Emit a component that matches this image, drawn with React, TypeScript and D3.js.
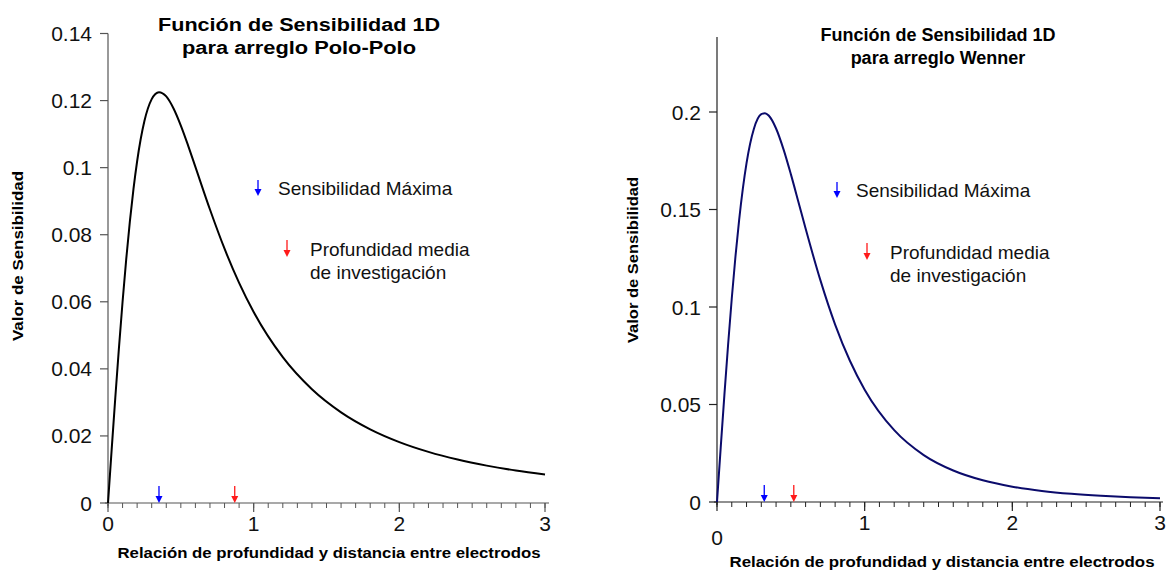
import React from "react";
import * as d3 from "d3";

// ---- data ----
const depthRatio = [0, 0.025, 0.05, 0.075, 0.1, 0.125, 0.15, 0.175, 0.2, 0.25, 0.3, 0.325, 0.35, 0.4, 0.45, 0.5, 0.55, 0.6, 0.7, 0.8, 0.9, 1.0, 1.2, 1.4, 1.6, 1.8, 2.0, 2.2, 2.4, 2.6, 2.8, 3.0];
const polePoleSens = [0, 0.01586, 0.03136, 0.04618, 0.06002, 0.07266, 0.08391, 0.09367, 0.10191, 0.11388, 0.12042, 0.12195, 0.12251, 0.12125, 0.11764, 0.11254, 0.10658, 0.10022, 0.08751, 0.07582, 0.06563, 0.05694, 0.04347, 0.03391, 0.02703, 0.02197, 0.01817, 0.01525, 0.01296, 0.01115, 0.00968, 0.00849];
const wennerSens = [0, 0.02774, 0.05479, 0.08052, 0.10436, 0.12588, 0.14473, 0.16072, 0.17381, 0.19143, 0.19888, 0.19941, 0.19818, 0.19154, 0.18097, 0.16814, 0.15427, 0.14023, 0.11376, 0.09101, 0.07244, 0.05761, 0.03683, 0.02406, 0.01615, 0.01112, 0.00787, 0.00568, 0.00419, 0.00316, 0.00241, 0.00188];

const polePoleYTicks = [0, 0.02, 0.04, 0.06, 0.08, 0.1, 0.12, 0.14];
const wennerYTicks = [0, 0.05, 0.1, 0.15, 0.2];
const xMajorTicks = [0, 1, 2, 3];
const xMinorTicks = d3.range(0, 31).map((i) => i / 10);

// [max sensitivity, median depth of investigation]
const polePoleMarkers = [0.35, 0.87];
const wennerMarkers = [0.32, 0.52];

const titlePolePolo = ["Función de Sensibilidad 1D", "para arreglo Polo-Polo"];
const titleWenner = ["Función de Sensibilidad 1D", "para arreglo Wenner"];
const legendMax = "Sensibilidad Máxima";
const legendMedian = ["Profundidad media", "de investigación"];
const xLabel = "Relación de profundidad y distancia entre electrodos";
const yLabel = "Valor de Sensibilidad";

const FONT = "'Liberation Sans', Arial, sans-serif";

function DownArrow({ x, y0, y1, color }: { x: number; y0: number; y1: number; color: string }) {
  return (
    <g>
      <line x1={x} x2={x} y1={y0} y2={y1 - 6} stroke={color} strokeWidth={1.3} />
      <path d={`M${x - 3.5},${y1 - 7} L${x + 3.5},${y1 - 7} L${x},${y1} Z`} fill={color} />
    </g>
  );
}

type PanelProps = {
  xRange: [number, number];
  yRange: [number, number];
  yMax: number;
  yAxisTop: number;
  yTicks: number[];
  yFmt: (v: number) => string;
  values: number[];
  lineColor: string;
  axisColor: string;
  markers: number[];
  title: string[];
  titleX: number;
  titleY: number[];
  titleLen?: number[];
  legend: { bx: number; by: number; rx: number; ry: number; tdx: number };
  yLabelX: number;
  yLabelY: number;
  yLabelLen: number;
  xLabelX: number;
  xLabelY: number;
  xLabelLen: number;
  xAxisEnd: number;
  zeroLabelDy: number;
};

function Panel(p: PanelProps) {
  const x = d3.scaleLinear().domain([0, 3]).range(p.xRange);
  const y = d3.scaleLinear().domain([0, p.yMax]).range(p.yRange);
  const line = d3
    .line<number>()
    .x((_, i) => x(depthRatio[i]))
    .y((d) => y(d))
    .curve(d3.curveMonotoneX);
  const x0 = x(0);
  const y0 = y(0);
  return (
    <g fontFamily={FONT}>
      {/* title */}
      {p.title.map((t, i) => (
        <text
          key={i}
          x={p.titleX}
          y={p.titleY[i]}
          textAnchor="middle"
          fontWeight="bold"
          fontSize={18}
          {...(p.titleLen ? { textLength: p.titleLen[i], lengthAdjust: "spacingAndGlyphs" } : {})}
        >
          {t}
        </text>
      ))}
      {/* y axis */}
      <line x1={x0} x2={x0} y1={p.yAxisTop} y2={y0 + 3} stroke={p.axisColor} strokeWidth={1.2} />
      {p.yTicks.map((t) => (
        <g key={t}>
          <line x1={x0 - 8} x2={x0} y1={y(t)} y2={y(t)} stroke={p.axisColor} strokeWidth={1.2} />
          <text x={x0 - 16} y={y(t)} dy="0.36em" textAnchor="end" fontSize={21} fill="#111">
            {p.yFmt(t)}
          </text>
        </g>
      ))}
      {/* x axis */}
      <line x1={x0 - 3} x2={p.xAxisEnd} y1={y0} y2={y0} stroke={p.axisColor} strokeWidth={1.2} />
      {xMinorTicks.map((t) => (
        <line key={t} x1={x(t)} x2={x(t)} y1={y0} y2={y0 + 5} stroke={p.axisColor} strokeWidth={1} />
      ))}
      {xMajorTicks.map((t) => (
        <g key={t}>
          <line x1={x(t)} x2={x(t)} y1={y0} y2={y0 + 9} stroke={p.axisColor} strokeWidth={1.2} />
          <text
            x={x(t)}
            y={y0 + 28 + (t === 0 ? p.zeroLabelDy : 0)}
            textAnchor="middle"
            fontSize={21}
            fill="#111"
          >
            {t}
          </text>
        </g>
      ))}
      {/* curve */}
      <path d={line(p.values) || ""} fill="none" stroke={p.lineColor} strokeWidth={2} />
      {/* markers on axis */}
      <DownArrow x={x(p.markers[0])} y0={y0 - 17} y1={y0} color="#0000ff" />
      <DownArrow x={x(p.markers[1])} y0={y0 - 17} y1={y0} color="#ff1a1a" />
      {/* legend */}
      <DownArrow x={p.legend.bx} y0={p.legend.by} y1={p.legend.by + 16} color="#0000ff" />
      <text x={p.legend.bx + p.legend.tdx} y={p.legend.by + 15} fontSize={19} fill="#111">
        {legendMax}
      </text>
      <DownArrow x={p.legend.rx} y0={p.legend.ry} y1={p.legend.ry + 17} color="#ff1a1a" />
      {legendMedian.map((t, i) => (
        <text key={i} x={p.legend.rx + 23} y={p.legend.ry + 16 + i * 23} fontSize={19} fill="#111">
          {t}
        </text>
      ))}
      {/* axis labels */}
      <text
        transform={`translate(${p.yLabelX},${p.yLabelY}) rotate(-90)`}
        textAnchor="middle"
        fontWeight="bold"
        fontSize={14}
        textLength={p.yLabelLen}
        lengthAdjust="spacingAndGlyphs"
      >
        {yLabel}
      </text>
      <text
        x={p.xLabelX}
        y={p.xLabelY}
        textAnchor="middle"
        fontWeight="bold"
        fontSize={14}
        textLength={p.xLabelLen}
        lengthAdjust="spacingAndGlyphs"
      >
        {xLabel}
      </text>
    </g>
  );
}

export default function App() {
  const fmt = (v: number) => (v === 0 ? "0" : String(+v.toFixed(2)));
  return (
    <svg
      width={1170}
      height={572}
      style={{ position: "absolute", left: 0, top: 0, background: "#fff" }}
    >
      <rect width={1170} height={572} fill="#fff" />
      <Panel
        xRange={[108, 545]}
        yRange={[503, 33.5]}
        yMax={0.14}
        yAxisTop={33.5}
        yTicks={polePoleYTicks}
        yFmt={fmt}
        values={polePoleSens}
        lineColor="#000"
        axisColor="#555"
        markers={polePoleMarkers}
        title={titlePolePolo}
        titleX={299}
        titleY={[31, 54]}
        titleLen={[282, 234]}
        legend={{ bx: 258, by: 180, rx: 287, ry: 240, tdx: 20 }}
        yLabelX={23}
        yLabelY={256}
        yLabelLen={170}
        xLabelX={329}
        xLabelY={558}
        xLabelLen={423}
        xAxisEnd={549}
        zeroLabelDy={0}
      />
      <Panel
        xRange={[717, 1160]}
        yRange={[502, 112]}
        yMax={0.2}
        yAxisTop={37}
        yTicks={wennerYTicks}
        yFmt={fmt}
        values={wennerSens}
        lineColor="#0b0b6b"
        axisColor="#222"
        markers={wennerMarkers}
        title={titleWenner}
        titleX={938}
        titleY={[41, 64]}
        legend={{ bx: 837, by: 182, rx: 867, ry: 243, tdx: 19 }}
        yLabelX={638}
        yLabelY={260}
        yLabelLen={166}
        xLabelX={942}
        xLabelY={567}
        xLabelLen={425}
        xAxisEnd={1163}
        zeroLabelDy={15}
      />
    </svg>
  );
}
